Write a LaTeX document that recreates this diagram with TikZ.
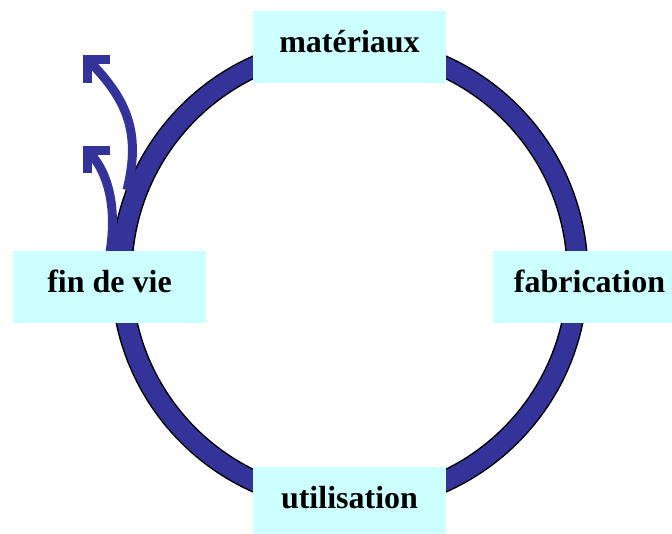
\documentclass[tikz,border=0pt]{standalone}
\usepackage{fontspec}
\setmainfont{Liberation Serif}
\definecolor{ringblue}{HTML}{333399}
\definecolor{boxcyan}{HTML}{CCFFFF}
\begin{document}
\begin{tikzpicture}[x=1pt,y=-1pt,
  stage/.style={fill=boxcyan, draw=none, minimum width=193pt, minimum height=72pt, inner sep=0pt,
    text height=20pt, text depth=10pt,
    font=\fontsize{32}{38}\selectfont\bfseries},
  flow/.style={draw=ringblue, line width=9pt, line cap=butt},
  barb/.style={draw=ringblue, line width=9pt, line cap=butt, line join=miter}]
\useasboundingbox (0,0) rectangle (672,533);
% ring
\coordinate (c) at (349.5,274);
\draw[black, line width=22pt] (c) circle[radius=228];
\draw[ringblue, line width=19pt] (c) circle[radius=228];
% end-of-life arrows
\coordinate (s1) at (127,190);
\coordinate (t1) at (87.5,59.5);
\coordinate (s2) at (110,252);
\coordinate (t2) at (87.5,150.5);
\draw[flow] (s1) .. controls (142,130) and (125,97) .. (t1);
\draw[barb] ([xshift=22.5pt]t1) -- (t1) -- ([yshift=-23.5pt]t1);
\draw[flow] (s2) .. controls (116,215) and (112,175) .. (t2);
\draw[barb] ([xshift=22.5pt]t2) -- (t2) -- ([yshift=-22.5pt]t2);
% stages
\node[stage] (mat) at (349.5,47) {matériaux};
\node[stage] (fab) at (589.5,287) {fabrication};
\node[stage] (uti) at (349.5,503) {utilisation};
\node[stage] (fin) at (109.5,287) {fin de vie};
\end{tikzpicture}
\end{document}
